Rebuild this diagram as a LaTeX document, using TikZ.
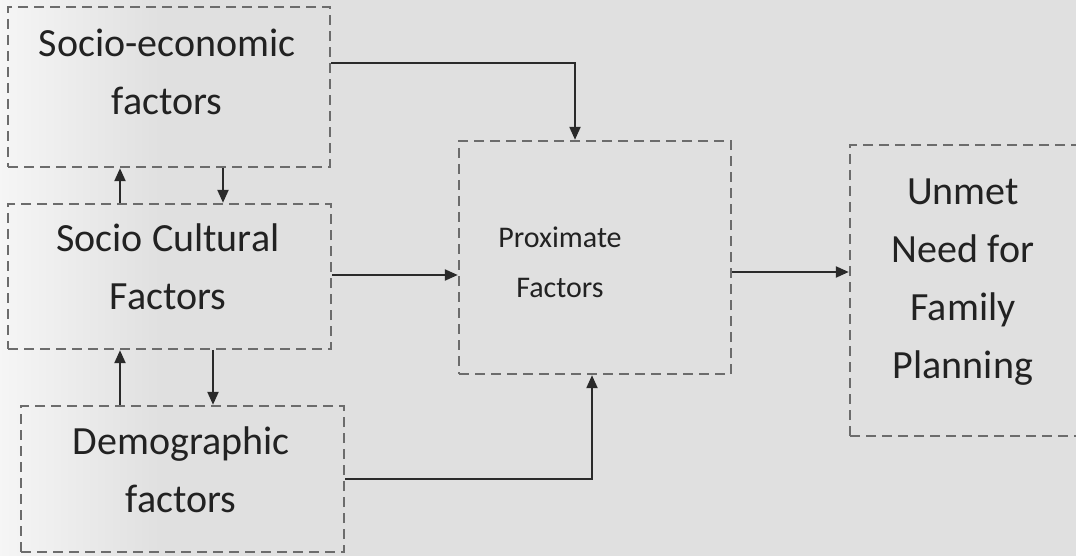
\documentclass[tikz,border=0pt]{standalone}
\usepackage{fontspec}
\setmainfont{Carlito}
\usetikzlibrary{arrows.meta}
\definecolor{bgc}{HTML}{E0E0E0}
\definecolor{dashc}{HTML}{6C6C6C}
\definecolor{arrc}{HTML}{2A2A2A}
\definecolor{txtc}{HTML}{222222}
\begin{document}
\begin{tikzpicture}[x=1pt,y=-1pt,
  box/.style={draw=dashc, line width=2.4pt, dash pattern=on 10pt off 6pt, inner sep=0pt},
  bigtxt/.style={text=txtc, align=center, font=\fontsize{40}{58}\selectfont, inner sep=0pt},
  midtxt/.style={text=txtc, align=center, font=\fontsize{30}{50}\selectfont, inner sep=0pt},
  arr/.style={draw=arrc, line width=2.2pt, -{Triangle[length=13pt,width=11pt]}}]
\useasboundingbox (0,0) rectangle (1076,556);
\clip (0,0) rectangle (1076,556);
\fill[bgc] (0,0) rectangle (1076,556);
\shade[left color=white!70!bgc, right color=bgc, draw=none] (0,0) rectangle (160,556);
% boxes
\node[box, minimum width=322pt, minimum height=160pt] (se) at (169,87) {};
\node[box, minimum width=323pt, minimum height=145pt] (sc) at (169.5,276.5) {};
\node[box, minimum width=323pt, minimum height=146pt] (dm) at (182.5,479) {};
\node[box, minimum width=272pt, minimum height=233pt] (px) at (595,257.5) {};
\node[box, minimum width=250pt, minimum height=291pt] (un) at (975,290.5) {};
% texts
\node[bigtxt] (tse) at (167,72) {Socio-economic\\factors};
\node[bigtxt] (tsc) at (168,267) {Socio Cultural\\Factors};
\node[bigtxt] (tdm) at (181,470) {Demographic\\factors};
\node[midtxt] (tpx) at (560,262) {Proximate\\Factors};
\node[bigtxt] (tun) at (963,282) {Unmet\\Need for\\Family\\Planning};
% arrows
\draw[arr] ([yshift=24pt]se.east) -| ([xshift=-20pt]px.north);
\draw[arr] ([yshift=1.5pt]sc.east) -- ([yshift=1.5pt]sc.east -| px.west);
\draw[arr] (dm.east) -| ([xshift=-3pt]px.south);
\draw[arr] ([yshift=-14.5pt]px.east) -- ([yshift=-14.5pt]px.east -| un.west);
\draw[arr] ([xshift=-49.5pt]sc.north) -- ([xshift=-49.5pt]sc.north |- se.south);
\draw[arr] ([xshift=54pt]se.south) -- ([xshift=54pt]se.south |- sc.north);
\draw[arr] ([xshift=-62.5pt]dm.north) -- ([xshift=-62.5pt]dm.north |- sc.south);
\draw[arr] ([xshift=43.5pt]sc.south) -- ([xshift=43.5pt]sc.south |- dm.north);
\end{tikzpicture}
\end{document}
